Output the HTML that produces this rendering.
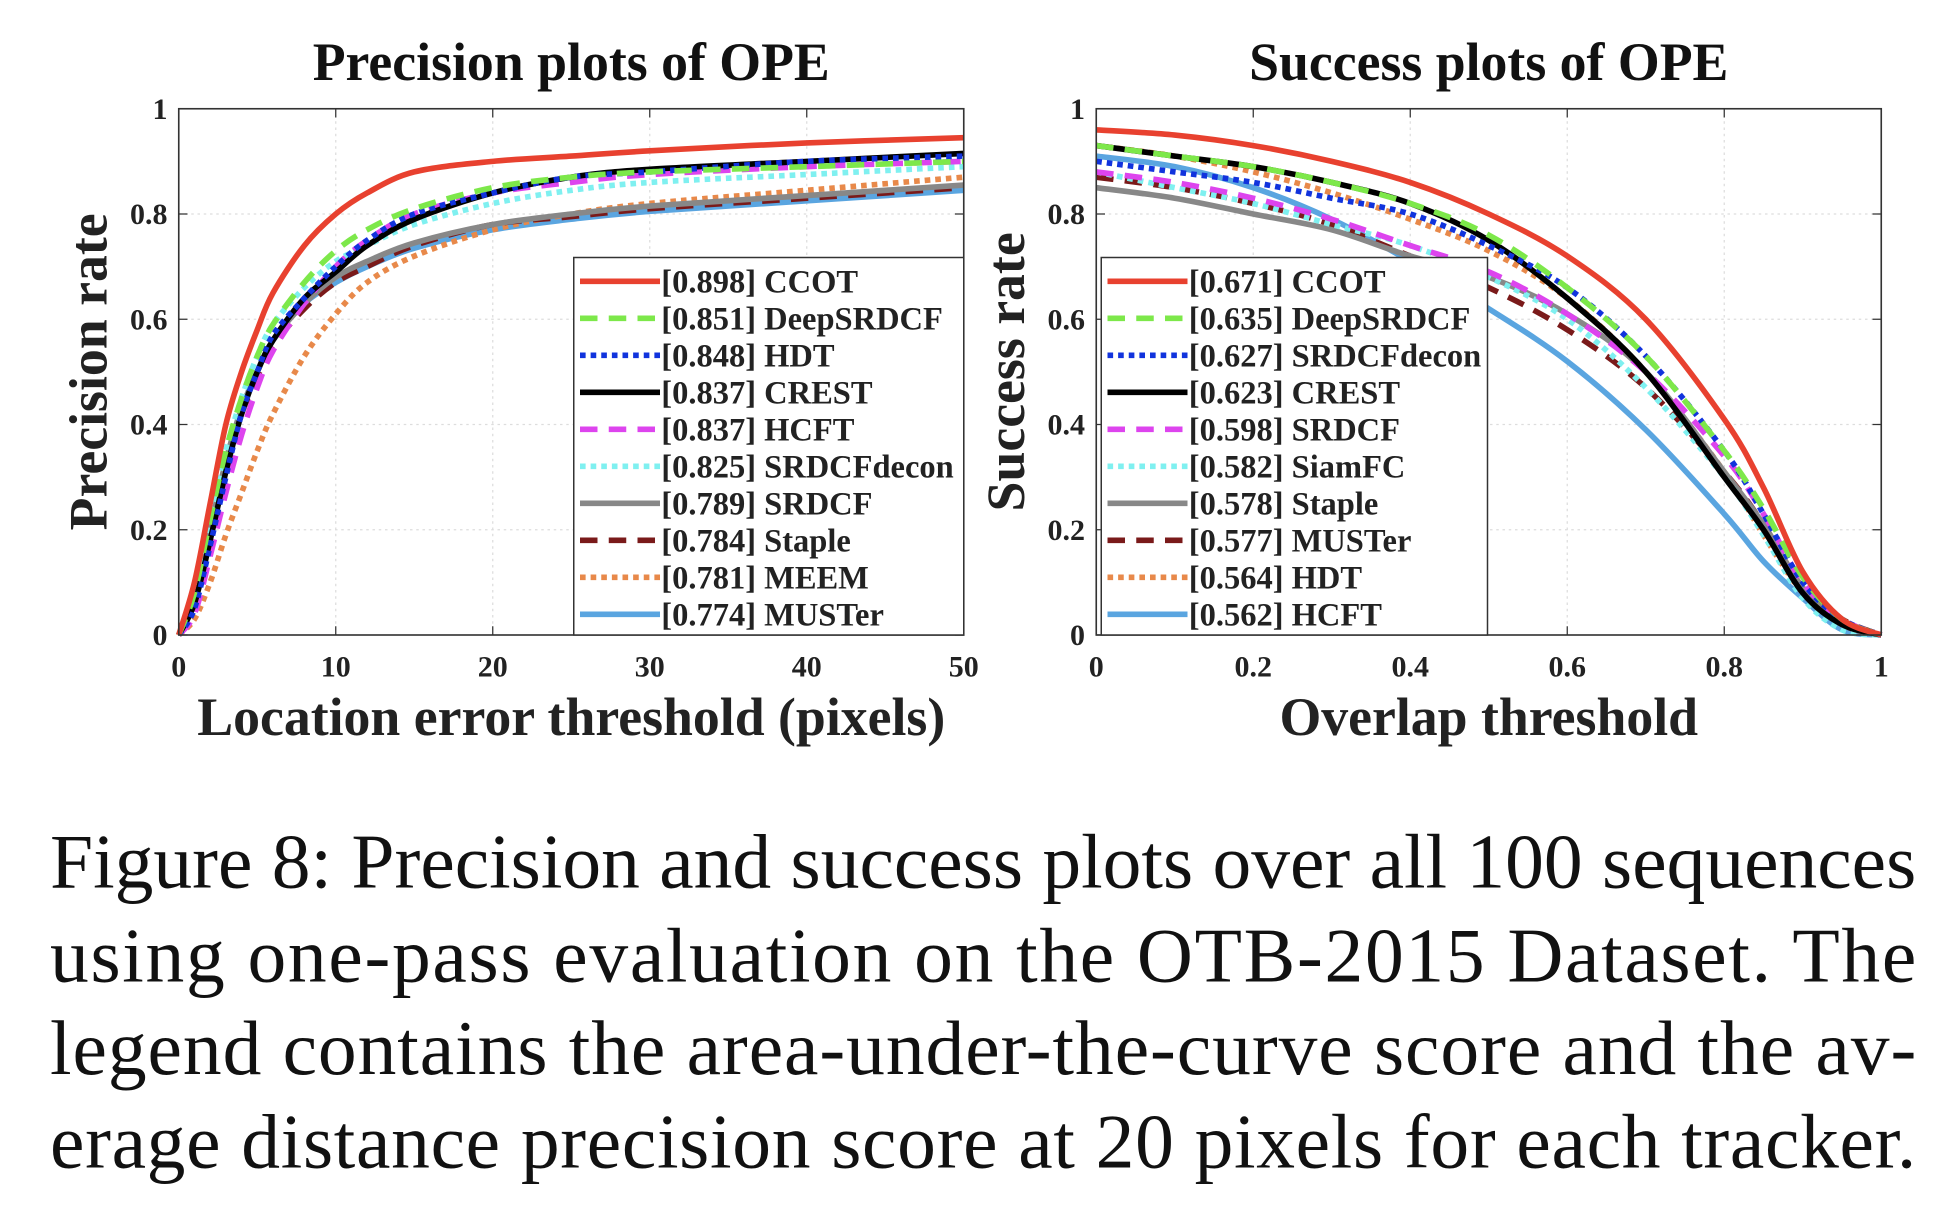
<!DOCTYPE html>
<html><head><meta charset="utf-8"><style>
html,body{margin:0;padding:0;background:#fff;}
svg{display:block;}
text{font-family:"Liberation Serif",serif;}
</style></head><body>
<svg id="fig" width="1950" height="1217" viewBox="0 0 1560 973.6" xmlns="http://www.w3.org/2000/svg">
<g id="left"></g>
<g id="right"></g>
<g font-size="62" fill="#111">
<text x="40" y="710" textLength="1493" lengthAdjust="spacing">Figure 8: Precision and success plots over all 100 sequences</text>
<text x="40" y="785" textLength="1493" lengthAdjust="spacing">using one-pass evaluation on the OTB-2015 Dataset.  The</text>
<text x="40" y="859" textLength="1493" lengthAdjust="spacing">legend contains the area-under-the-curve score and the av-</text>
<text x="40" y="934" textLength="1493" lengthAdjust="spacing">erage distance precision score at 20 pixels for each tracker.</text>
</g>
</svg>
<script>
const NS="http://www.w3.org/2000/svg";
const colors=["#e8412f","#7de84a","#1133dd","#000000","#dd44ee","#7ff0f0","#888888","#7a1a1a","#e8894a","#5aa5e0"];
const styles=["solid","dash","dot","solid","dash","dot","solid","dash","dot","solid"];
// precision data
const precX=[0,1,2,3,4,5,6,8,10,12,15,20,25,30,40,50];
const precNames=["CCOT","DeepSRDCF","HDT","CREST","HCFT","SRDCFdecon","SRDCF","Staple","MEEM","MUSTer"];
const precScores=["0.898","0.851","0.848","0.837","0.837","0.825","0.789","0.784","0.781","0.774"];
const precCCOT=[0,0.1,0.25,0.4,0.5,0.58,0.65,0.74,0.8,0.84,0.88,0.9,0.91,0.92,0.935,0.945];
const precDeep=[0,0.08,0.22,0.35,0.45,0.53,0.59,0.67,0.73,0.77,0.81,0.85,0.87,0.88,0.89,0.9];
const precHDT=[0,0.05,0.17,0.3,0.42,0.5,0.57,0.64,0.7,0.75,0.8,0.84,0.87,0.88,0.9,0.91];
const precCREST=[0,0.06,0.18,0.31,0.42,0.5,0.56,0.64,0.69,0.74,0.79,0.84,0.87,0.885,0.9,0.915];
const precHCFT=[0,0.04,0.15,0.27,0.38,0.47,0.54,0.63,0.7,0.75,0.8,0.84,0.86,0.875,0.89,0.9];
const precDecon=[0,0.08,0.22,0.35,0.45,0.53,0.59,0.66,0.71,0.74,0.78,0.82,0.845,0.86,0.875,0.89];
const precSRDCF=[0,0.08,0.2,0.33,0.43,0.5,0.56,0.63,0.68,0.71,0.745,0.78,0.8,0.815,0.835,0.855];
const precStaple=[0,0.07,0.19,0.32,0.42,0.49,0.55,0.62,0.67,0.7,0.74,0.78,0.795,0.81,0.83,0.85];
const precMEEM=[0,0.03,0.1,0.19,0.27,0.35,0.42,0.53,0.61,0.67,0.72,0.77,0.8,0.82,0.845,0.87];
const precMUSTer=[0,0.07,0.2,0.33,0.43,0.5,0.56,0.63,0.67,0.7,0.735,0.77,0.79,0.805,0.825,0.845];
const precTicksX=[0,10,20,30,40,50];
// success data
const succX=[0,0.1,0.2,0.3,0.4,0.5,0.6,0.7,0.8,0.85,0.9,0.95,1];
const succNames=["CCOT","DeepSRDCF","SRDCFdecon","CREST","SRDCF","SiamFC","Staple","MUSTer","HDT","HCFT"];
const succScores=["0.671","0.635","0.627","0.623","0.598","0.582","0.578","0.577","0.564","0.562"];
const succCCOT=[.96,.95,.93,.9,.86,.8,.72,.6,.41,.28,.12,.03,0];
const succDeep=[.93,.91,.89,.86,.82,.76,.66,.53,.35,.24,.11,.03,0];
const succDecon=[.9,.88,.86,.83,.8,.74,.66,.53,.35,.23,.1,.03,0];
const succCREST=[.93,.91,.89,.86,.82,.75,.64,.5,.3,.2,.08,.02,0];
const succSRDCF=[.88,.86,.83,.79,.74,.69,.61,.5,.34,.23,.1,.03,0];
const succSiam=[.88,.85,.82,.78,.74,.68,.6,.47,.3,.19,.07,.01,0];
const succStaple=[.85,.83,.8,.77,.72,.68,.61,.5,.31,.21,.09,.02,0];
const succMUSTer=[.87,.85,.82,.78,.72,.66,.58,.47,.31,.21,.09,.03,0];
const succHDT=[.93,.91,.88,.84,.79,.73,.64,.5,.31,.19,.08,.02,0];
const succHCFT=[.91,.89,.85,.79,.71,.62,.52,.39,.23,.14,.07,.01,0];
const succTicksX=[0,0.2,0.4,0.6,0.8,1];
const yTicks=[0,0.2,0.4,0.6,0.8,1];

function el(tag,attrs,parent){const e=document.createElementNS(NS,tag);for(const k in attrs)e.setAttribute(k,attrs[k]);parent.appendChild(e);return e;}
function smooth(pts){let d="M"+pts[0][0]+","+pts[0][1];for(let i=0;i<pts.length-1;i++){const p0=pts[Math.max(0,i-1)],p1=pts[i],p2=pts[i+1],p3=pts[Math.min(pts.length-1,i+2)];const c1=[p1[0]+(p2[0]-p0[0])/6,p1[1]+(p2[1]-p0[1])/6],c2=[p2[0]-(p3[0]-p1[0])/6,p2[1]-(p3[1]-p1[1])/6];d+=" C"+c1[0]+","+c1[1]+" "+c2[0]+","+c2[1]+" "+p2[0]+","+p2[1];}return d;}
function styleAttrs(s,c){const a={stroke:c,"stroke-width":4.5,fill:"none"};if(s==="dash")a["stroke-dasharray"]="14 9";if(s==="dot")a["stroke-dasharray"]="4.5 4";return a;}

function drawPlot(g,cfg){
  const L=cfg.L,R=cfg.R,T=87,B=508;
  const sx=v=>L+(v-cfg.xmin)/(cfg.xmax-cfg.xmin)*(R-L);
  const sy=v=>B-v*(B-T);
  el("rect",{x:L,y:T,width:R-L,height:B-T,fill:"#fff"},g);
  cfg.xticks.forEach((t,i)=>{const x=sx(t);
    if(i>0&&i<cfg.xticks.length-1){const gl=el("line",{x1:x,x2:x,y1:T,y2:B,stroke:"#ddd","stroke-width":1,"stroke-dasharray":"2 3"},g);}
    el("line",{x1:x,x2:x,y1:B,y2:B-7,stroke:"#333","stroke-width":1},g);el("line",{x1:x,x2:x,y1:T,y2:T+7,stroke:"#333","stroke-width":1},g);
    const tx=el("text",{x:x,y:541,"font-size":24,"font-weight":"bold","text-anchor":"middle",fill:"#222"},g);tx.textContent=String(t);
    });
  yTicks.forEach((t,i)=>{const y=sy(t);
    if(i>0&&i<yTicks.length-1){const gl=el("line",{x1:L,x2:R,y1:y,y2:y,stroke:"#ddd","stroke-width":1,"stroke-dasharray":"2 3"},g);}
    el("line",{x1:L,x2:L+7,y1:y,y2:y,stroke:"#333","stroke-width":1},g);el("line",{x1:R,x2:R-7,y1:y,y2:y,stroke:"#333","stroke-width":1},g);
    const tx=el("text",{x:L-9,y:y+8,"font-size":24,"font-weight":"bold","text-anchor":"end",fill:"#222"},g);tx.textContent=String(t);
    });
  for(let i=cfg.series.length-1;i>=0;i--){
    const pts=cfg.x.map((v,j)=>[sx(v),sy(cfg.series[i][j])]);
    const p=el("path",Object.assign({d:smooth(pts)},styleAttrs(styles[i],colors[i])),g);
    
    
  }
  const fr=el("rect",{x:L,y:T,width:R-L,height:B-T,fill:"none",stroke:"#333","stroke-width":1.3},g);
  
  const tt=el("text",{x:(L+R)/2,y:64,"font-size":43,"font-weight":"bold","text-anchor":"middle",fill:"#111"},g);tt.textContent=cfg.title;
  
  const xt=el("text",{x:(L+R)/2,y:588,"font-size":43,"font-weight":"bold","text-anchor":"middle",fill:"#222"},g);xt.textContent=cfg.xlabel;
  
  const yt=el("text",{x:0,y:0,"font-size":43,"font-weight":"bold","text-anchor":"middle",fill:"#222",transform:"translate("+(L-58)+","+((T+B)/2)+") rotate(-90)"},g);yt.textContent=cfg.ylabel;
  
  // legend
  const lg=el("g",{},g);
  el("rect",{x:cfg.lx,y:206,width:cfg.lw,height:B-206,fill:"#fff",stroke:"#333","stroke-width":1.2},lg);
  cfg.names.forEach((n,i)=>{const y=225+i*29.6;
    const ent=el("g",{},lg);
    el("line",Object.assign({x1:cfg.lx+5,x2:cfg.lx+69,y1:y,y2:y},styleAttrs(styles[i],colors[i])),ent);
    const t=el("text",{x:cfg.lx+70,y:y+9,"font-size":26,"font-weight":"bold",fill:"#222"},ent);t.textContent="["+cfg.scores[i]+"] "+n;});
}
drawPlot(document.getElementById("left"),{L:143,R:771,xmin:0,xmax:50,x:precX,xticks:precTicksX,
  series:[precCCOT,precDeep,precHDT,precCREST,precHCFT,precDecon,precSRDCF,precStaple,precMEEM,precMUSTer],
  names:precNames,scores:precScores,title:"Precision plots of OPE",xlabel:"Location error threshold (pixels)",ylabel:"Precision rate",lx:459,lw:312});
drawPlot(document.getElementById("right"),{L:877,R:1505,xmin:0,xmax:1,x:succX,xticks:succTicksX,
  series:[succCCOT,succDeep,succDecon,succCREST,succSRDCF,succSiam,succStaple,succMUSTer,succHDT,succHCFT],
  names:succNames,scores:succScores,title:"Success plots of OPE",xlabel:"Overlap threshold",ylabel:"Success rate",lx:881,lw:309});
</script>
</body></html>
